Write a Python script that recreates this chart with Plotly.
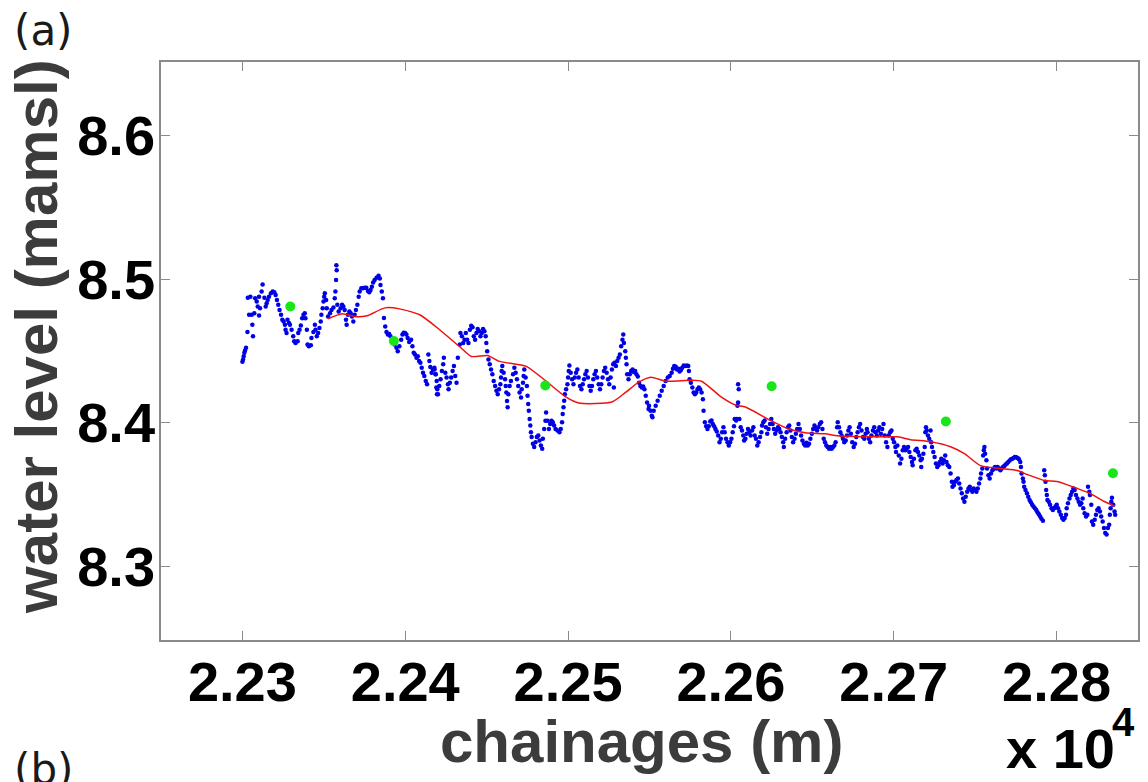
import plotly.graph_objects as go

# Observed water level along the reach (chainage in m, level in m above mean sea level)
chainage_obs_1 = [
    22300.0, 22300.4, 22300.8, 22301.2, 22301.6, 22302.2, 22303.1, 22304.1, 22303.3, 22304.9,
    22306.1, 22306.5, 22305.7, 22307.3, 22307.8, 22308.8, 22309.4, 22310.2, 22310.8, 22310.2,
    22311.8, 22312.4, 22313.5, 22314.3, 22314.9, 22315.5, 22316.3, 22317.5, 22318.6, 22319.6,
    22320.4, 22321.2, 22322.0, 22322.8, 22323.7, 22324.5, 22325.3, 22326.1, 22326.5, 22327.1,
    22327.7, 22328.6, 22329.2, 22330.2, 22331.2, 22331.8, 22332.6, 22333.9, 22334.3, 22335.1,
    22335.9, 22336.7, 22337.5, 22338.3, 22338.7, 22339.6, 22340.0, 22340.8, 22342.0, 22342.4,
    22343.6, 22344.5, 22344.9, 22345.7, 22346.5, 22347.3, 22348.1, 22348.5, 22349.3, 22349.8,
    22350.2, 22350.6, 22351.4, 22351.8, 22352.6, 22353.8, 22354.7, 22355.9, 22356.7, 22357.1,
    22357.5, 22357.9, 22357.7, 22358.3, 22359.1, 22360.3, 22361.2, 22362.0, 22362.8, 22363.6,
    22364.0, 22364.8, 22365.7, 22366.5, 22367.3, 22368.1, 22368.9, 22369.7, 22370.6, 22371.4,
    22372.0, 22373.0, 22374.0, 22375.0, 22376.1, 22377.1, 22377.9, 22378.7, 22379.5, 22380.3,
    22381.2, 22382.4, 22383.6, 22384.4, 22384.8, 22385.6, 22386.3, 22386.9, 22387.7, 22388.5,
    22389.3, 22390.1, 22390.9, 22392.2, 22393.4, 22394.6, 22395.4, 22396.4, 22397.5, 22398.3,
    22399.1, 22399.9, 22400.7, 22401.5, 22402.4, 22403.6, 22404.4, 22405.2, 22406.0, 22406.9,
    22407.7, 22408.5, 22409.3, 22410.1, 22410.9, 22411.7, 22412.6, 22413.4, 22414.2, 22414.8,
    22415.4, 22416.2, 22417.0, 22417.9, 22418.7, 22419.1, 22419.5,
]
level_obs_1 = [
    8.4425, 8.4441, 8.4464, 8.4487, 8.4503, 8.4522, 8.4632, 8.4752, 8.4871, 8.4878,
    8.4683, 8.4602, 8.4752, 8.4763, 8.4867, 8.4844, 8.4809, 8.4747, 8.4798, 8.4878,
    8.4913, 8.4963, 8.4871, 8.4809, 8.4832, 8.4855, 8.4878, 8.4901, 8.4913, 8.4908,
    8.4890, 8.4855, 8.4821, 8.4786, 8.4752, 8.4717, 8.4706, 8.4683, 8.4648, 8.4625,
    8.4717, 8.4694, 8.4683, 8.4648, 8.4602, 8.4568, 8.4556, 8.4568, 8.4625, 8.4648,
    8.4678, 8.4728, 8.4752, 8.4763, 8.4728, 8.4648, 8.4545, 8.4533, 8.4540, 8.4591,
    8.4632, 8.4683, 8.4648, 8.4602, 8.4625, 8.4660, 8.4706, 8.4752, 8.4798, 8.4844,
    8.4878, 8.4901, 8.4855, 8.4798, 8.4740, 8.4763, 8.4786, 8.4802, 8.4867, 8.4913,
    8.4993, 8.5062, 8.5097, 8.4821, 8.4775, 8.4798, 8.4821, 8.4809, 8.4786, 8.4717,
    8.4683, 8.4752, 8.4775, 8.4763, 8.4740, 8.4706, 8.4752, 8.4786, 8.4821, 8.4878,
    8.4913, 8.4936, 8.4936, 8.4940, 8.4940, 8.4917, 8.4908, 8.4924, 8.4947, 8.4977,
    8.4993, 8.5009, 8.5023, 8.5005, 8.4959, 8.4913, 8.4867, 8.4729, 8.4671, 8.4632,
    8.4614, 8.4618, 8.4602, 8.4579, 8.4545, 8.4522, 8.4499, 8.4533, 8.4579, 8.4614,
    8.4627, 8.4625, 8.4614, 8.4591, 8.4563, 8.4579, 8.4533, 8.4487, 8.4476, 8.4453,
    8.4464, 8.4430, 8.4418, 8.4384, 8.4349, 8.4326, 8.4292, 8.4269, 8.4476, 8.4430,
    8.4388, 8.4349, 8.4372, 8.4384, 8.4338, 8.4246, 8.4200,
]

chainage_obs_2 = [
    22418.0, 22418.6, 22419.3, 22419.7, 22420.1, 22420.9, 22421.7, 22422.5, 22423.3, 22423.7,
    22424.6, 22425.4, 22426.2, 22426.6, 22427.4, 22428.2, 22429.1, 22429.9, 22430.7, 22431.5,
    22432.3, 22433.5, 22433.9, 22434.8, 22435.6, 22436.4, 22437.2, 22438.0, 22438.8, 22439.7,
    22440.5, 22441.3, 22442.1, 22442.9, 22443.7, 22444.5, 22445.4, 22446.2, 22447.0, 22447.8,
    22448.6, 22449.4, 22449.8, 22450.3, 22451.1, 22451.9, 22452.7, 22453.5, 22454.3, 22455.2,
    22456.0, 22456.8, 22457.6, 22458.4, 22458.8, 22459.2, 22459.6, 22460.4, 22461.3, 22461.7,
    22462.1, 22462.5, 22462.9, 22463.3, 22464.1, 22464.9, 22466.2, 22467.0, 22467.8, 22468.6,
    22469.4, 22470.2, 22471.1, 22471.5, 22472.3, 22472.7, 22473.1, 22473.9, 22474.7, 22475.1,
    22475.5, 22475.9, 22476.4, 22476.8, 22477.2, 22477.6, 22478.4, 22479.2, 22480.0, 22480.8,
    22481.7, 22482.5, 22483.3, 22484.1, 22484.5, 22485.3, 22486.1, 22486.5, 22487.4, 22488.2,
    22489.0, 22489.8, 22490.6, 22491.4, 22492.3, 22493.5, 22494.7, 22495.5, 22496.3, 22496.7,
    22497.2, 22497.6, 22498.0, 22498.8, 22499.6, 22500.0, 22500.4, 22500.8, 22501.6, 22502.5,
    22503.3, 22504.1, 22504.9, 22505.7, 22506.5, 22507.3, 22508.2, 22509.0, 22509.8, 22510.6,
    22511.4, 22512.2, 22513.1, 22513.9, 22514.7, 22515.5, 22516.3, 22517.1, 22517.9, 22518.8,
    22519.6, 22520.4, 22521.2, 22522.0, 22522.8, 22523.7, 22524.5, 22525.3, 22526.1, 22526.9,
    22527.7, 22528.1, 22528.5, 22529.4, 22530.2, 22531.0, 22531.8, 22532.6, 22533.4, 22533.9,
    22534.3, 22535.1, 22535.5, 22535.9, 22536.3, 22537.1, 22537.9, 22538.7, 22539.6, 22540.4,
    22541.2, 22542.0, 22542.8, 22543.6, 22544.4, 22545.3, 22546.1, 22546.9, 22547.7, 22548.5,
    22549.4,
]
level_obs_2 = [
    8.4372, 8.4338, 8.4292, 8.4234, 8.4200, 8.4257, 8.4303, 8.4361, 8.4407, 8.4453,
    8.4349, 8.4315, 8.4269, 8.4234, 8.4280, 8.4315, 8.4361, 8.4395, 8.4326, 8.4280,
    8.4453, 8.4545, 8.4625, 8.4602, 8.4556, 8.4579, 8.4625, 8.4579, 8.4556, 8.4648,
    8.4676, 8.4666, 8.4602, 8.4579, 8.4625, 8.4653, 8.4637, 8.4602, 8.4625, 8.4653,
    8.4637, 8.4602, 8.4556, 8.4499, 8.4441, 8.4407, 8.4372, 8.4338, 8.4292, 8.4257,
    8.4223, 8.4200, 8.4234, 8.4269, 8.4315, 8.4361, 8.4395, 8.4349, 8.4303, 8.4257,
    8.4211, 8.4153, 8.4108, 8.4200, 8.4257, 8.4292, 8.4338, 8.4384, 8.4349, 8.4303,
    8.4257, 8.4211, 8.4177, 8.4234, 8.4280, 8.4326, 8.4372, 8.4315, 8.4257, 8.4188,
    8.4131, 8.4085, 8.4027, 8.3981, 8.3935, 8.3901, 8.3855, 8.3832, 8.3866, 8.3901,
    8.3912, 8.3878, 8.3843, 8.3820, 8.3889, 8.3958, 8.4015, 8.4073, 8.4015, 8.3958,
    8.3993, 8.4015, 8.4004, 8.3981, 8.3958, 8.3947, 8.3935, 8.3958, 8.4004, 8.4062,
    8.4108, 8.4154, 8.4200, 8.4234, 8.4269, 8.4315, 8.4361, 8.4400, 8.4349, 8.4303,
    8.4269, 8.4315, 8.4349, 8.4372, 8.4315, 8.4257, 8.4234, 8.4269, 8.4303, 8.4338,
    8.4361, 8.4315, 8.4257, 8.4223, 8.4257, 8.4303, 8.4338, 8.4361, 8.4315, 8.4269,
    8.4234, 8.4269, 8.4315, 8.4361, 8.4384, 8.4349, 8.4303, 8.4269, 8.4315, 8.4372,
    8.4407, 8.4246, 8.4418, 8.4395, 8.4430, 8.4453, 8.4476, 8.4533, 8.4579, 8.4614,
    8.4556, 8.4499, 8.4453, 8.4407, 8.4338, 8.4303, 8.4338, 8.4361, 8.4372, 8.4354,
    8.4361, 8.4338, 8.4322, 8.4280, 8.4257, 8.4246, 8.4253, 8.4234, 8.4188, 8.4142,
    8.4096,
]

chainage_obs_3 = [
    22549.7, 22550.6, 22551.4, 22551.8, 22552.6, 22553.8, 22555.0, 22556.3, 22557.5, 22558.7,
    22559.9, 22561.2, 22562.4, 22563.6, 22564.4, 22565.2, 22566.1, 22566.9, 22567.7, 22568.5,
    22569.3, 22570.1, 22571.0, 22572.2, 22573.0, 22573.8, 22574.2, 22574.6, 22575.4, 22576.3,
    22577.1, 22577.9, 22578.7, 22579.5, 22580.3, 22581.1, 22582.0, 22582.8, 22583.2, 22584.0,
    22584.8, 22585.6, 22586.4, 22587.3, 22588.1, 22588.9, 22589.7, 22590.5, 22591.3, 22592.2,
    22593.0, 22593.8, 22594.6, 22595.4, 22596.2, 22597.0, 22597.9, 22598.7, 22599.5, 22600.3,
    22601.1, 22601.9, 22602.3, 22603.2, 22603.6, 22604.0, 22604.4, 22604.8, 22604.4, 22605.2,
    22606.0, 22606.8, 22607.6, 22608.1, 22608.9, 22609.7, 22610.5, 22611.3, 22612.1, 22613.0,
    22613.8, 22614.6, 22615.4, 22616.2, 22617.0, 22617.9, 22618.7, 22619.1, 22619.9, 22620.7,
    22621.5, 22622.3, 22623.1, 22624.0, 22624.8, 22625.6, 22626.4, 22627.2, 22628.0, 22628.9,
    22629.7, 22630.5, 22631.3, 22632.1, 22632.5, 22633.3, 22634.2, 22635.0, 22635.8, 22636.6,
    22637.4, 22638.2, 22639.1, 22639.9, 22640.7, 22641.5, 22642.3, 22643.1, 22643.9, 22644.8,
    22645.6, 22646.4, 22647.2, 22648.0, 22648.8, 22649.7, 22650.5, 22651.3, 22652.1, 22652.9,
    22653.7, 22654.6, 22655.4, 22656.2, 22657.0, 22657.8, 22658.6, 22659.4, 22660.3, 22661.1,
    22661.9, 22662.7, 22663.5, 22664.3, 22665.2, 22665.6, 22666.4, 22667.2, 22668.0, 22668.8,
    22669.6, 22670.5, 22671.3, 22672.1, 22672.9, 22673.7, 22674.5, 22675.4, 22676.2, 22677.0,
    22677.8, 22678.6, 22679.4, 22680.2, 22681.1, 22681.9, 22682.7, 22683.5,
]
level_obs_3 = [
    8.4119, 8.4085, 8.4050, 8.4039, 8.4085, 8.4119, 8.4154, 8.4188, 8.4223, 8.4257,
    8.4292, 8.4315, 8.4326, 8.4349, 8.4377, 8.4395, 8.4391, 8.4372, 8.4377, 8.4358,
    8.4368, 8.4384, 8.4400, 8.4395, 8.4400, 8.4395, 8.4361, 8.4303, 8.4280, 8.4246,
    8.4211, 8.4200, 8.4211, 8.4234, 8.4246, 8.4234, 8.4211, 8.4165, 8.4085, 8.4004,
    8.3977, 8.3958, 8.3977, 8.4009, 8.4016, 8.3993, 8.3977, 8.3958, 8.3940, 8.3912,
    8.3866, 8.3889, 8.3935, 8.3970, 8.3935, 8.3889, 8.3866, 8.3843, 8.3866, 8.3889,
    8.3935, 8.3977, 8.4027, 8.4016, 8.4027, 8.4119, 8.4142, 8.4234, 8.4269, 8.4027,
    8.3970, 8.3947, 8.3912, 8.3878, 8.3889, 8.3924, 8.3958, 8.3935, 8.3912, 8.3947,
    8.3970, 8.3912, 8.3889, 8.3843, 8.3866, 8.3901, 8.3935, 8.3981, 8.4004, 8.4016,
    8.3970, 8.3924, 8.3958, 8.3993, 8.4027, 8.3993, 8.3958, 8.3924, 8.3947, 8.3970,
    8.3958, 8.3935, 8.3901, 8.3866, 8.3832, 8.3889, 8.3935, 8.3970, 8.3981, 8.3947,
    8.3901, 8.3866, 8.3889, 8.3924, 8.3958, 8.3993, 8.3958, 8.3912, 8.3878, 8.3855,
    8.3843, 8.3862, 8.3843, 8.3855, 8.3889, 8.3924, 8.3958, 8.3981, 8.3963, 8.3947,
    8.3970, 8.3993, 8.4004, 8.3958, 8.3889, 8.3866, 8.3843, 8.3832, 8.3820, 8.3832,
    8.3820, 8.3832, 8.3843, 8.3866, 8.3970, 8.4004, 8.3970, 8.3935, 8.3912, 8.3889,
    8.3866, 8.3878, 8.3912, 8.3947, 8.3970, 8.3924, 8.3866, 8.3832, 8.3855, 8.3901,
    8.3935, 8.3970, 8.3993, 8.3947, 8.3901, 8.3889, 8.3924, 8.3958,
]

chainage_obs_4 = [
    22683.9, 22684.7, 22685.5, 22686.3, 22687.2, 22688.0, 22688.8, 22689.6, 22690.4, 22691.2,
    22692.1, 22692.9, 22693.7, 22694.5, 22695.3, 22696.1, 22696.9, 22697.8, 22698.6, 22699.4,
    22700.2, 22701.0, 22701.4, 22702.2, 22703.1, 22703.9, 22704.7, 22705.5, 22706.3, 22707.1,
    22707.9, 22708.8, 22709.6, 22710.4, 22711.2, 22711.6, 22712.4, 22713.3, 22714.1, 22714.9,
    22715.7, 22716.5, 22716.9, 22717.3, 22718.2, 22719.0, 22719.4, 22719.8, 22720.2, 22721.0,
    22721.8, 22722.6, 22723.0, 22723.5, 22724.3, 22725.1, 22725.9, 22726.7, 22727.5, 22728.3,
    22729.2, 22730.0, 22730.8, 22731.6, 22732.4, 22733.2, 22734.1, 22734.9, 22735.7, 22736.1,
    22736.9, 22737.7, 22738.5, 22739.4, 22740.2, 22741.0, 22741.8, 22742.6, 22743.4, 22744.2,
    22745.1, 22745.9, 22746.7, 22747.5, 22748.3, 22749.1, 22750.0, 22750.8, 22751.6, 22752.4,
    22753.2, 22753.6, 22754.4, 22754.9, 22755.3, 22755.7, 22756.1, 22756.9, 22757.3, 22758.1,
    22758.9, 22759.7, 22760.6, 22761.4, 22762.2, 22763.0, 22763.8, 22764.6, 22765.5, 22766.3,
    22767.1, 22767.9, 22768.7, 22769.5, 22770.3, 22771.2, 22772.0, 22772.8, 22773.6, 22774.4,
    22775.2, 22776.1, 22776.9, 22777.7, 22778.1, 22778.5, 22779.3, 22779.7, 22780.1, 22780.9,
    22781.8, 22782.6, 22783.4, 22784.2, 22785.0, 22785.8, 22786.7, 22787.5, 22788.3, 22789.1,
    22789.9, 22790.7, 22791.6, 22792.4, 22792.8, 22793.2, 22793.6, 22794.0, 22794.4, 22795.2,
    22796.0, 22796.9, 22797.7, 22798.5, 22799.3, 22800.1, 22800.9, 22801.7, 22802.6, 22803.4,
    22804.2, 22805.0, 22805.8, 22806.2, 22807.0, 22807.9, 22808.7, 22809.5, 22810.3, 22811.1,
    22811.9, 22812.8, 22813.6, 22814.4, 22815.2, 22816.0, 22816.4, 22817.2, 22818.1, 22818.9,
    22819.3, 22820.1, 22820.5, 22821.3, 22821.7, 22822.5, 22823.4, 22824.2, 22825.0, 22825.8,
    22826.6, 22827.4, 22828.3, 22829.1, 22829.9, 22830.7, 22831.5, 22832.3, 22832.7, 22833.2,
    22833.6, 22834.0, 22834.8, 22835.6, 22836.0,
]
level_obs_4 = [
    8.3935, 8.3889, 8.3866, 8.3912, 8.3947, 8.3970, 8.3935, 8.3912, 8.3947, 8.3970,
    8.3924, 8.3958, 8.3993, 8.3912, 8.3866, 8.3832, 8.3912, 8.3935, 8.3947, 8.3889,
    8.3866, 8.3832, 8.3797, 8.3843, 8.3774, 8.3717, 8.3751, 8.3809, 8.3832, 8.3809,
    8.3820, 8.3832, 8.3797, 8.3763, 8.3728, 8.3705, 8.3751, 8.3809, 8.3820, 8.3797,
    8.3774, 8.3740, 8.3694, 8.3751, 8.3786, 8.3832, 8.3935, 8.3970, 8.3947, 8.3912,
    8.3889, 8.3947, 8.3866, 8.3832, 8.3797, 8.3763, 8.3717, 8.3694, 8.3705, 8.3728,
    8.3751, 8.3717, 8.3740, 8.3774, 8.3728, 8.3705, 8.3694, 8.3648, 8.3590, 8.3556,
    8.3567, 8.3590, 8.3602, 8.3613, 8.3579, 8.3544, 8.3510, 8.3475, 8.3452, 8.3487,
    8.3521, 8.3544, 8.3556, 8.3533, 8.3521, 8.3544, 8.3533, 8.3521, 8.3544, 8.3579,
    8.3613, 8.3648, 8.3682, 8.3774, 8.3809, 8.3832, 8.3786, 8.3740, 8.3682, 8.3636,
    8.3613, 8.3648, 8.3671, 8.3682, 8.3694, 8.3682, 8.3694, 8.3682, 8.3671, 8.3682,
    8.3694, 8.3701, 8.3710, 8.3717, 8.3728, 8.3738, 8.3747, 8.3751, 8.3756, 8.3763,
    8.3761, 8.3756, 8.3747, 8.3728, 8.3694, 8.3648, 8.3613, 8.3590, 8.3556, 8.3533,
    8.3510, 8.3487, 8.3464, 8.3448, 8.3430, 8.3418, 8.3407, 8.3395, 8.3379, 8.3365,
    8.3349, 8.3333, 8.3319, 8.3671, 8.3636, 8.3590, 8.3533, 8.3498, 8.3464, 8.3452,
    8.3430, 8.3407, 8.3395, 8.3407, 8.3418, 8.3430, 8.3407, 8.3384, 8.3361, 8.3338,
    8.3326, 8.3338, 8.3361, 8.3407, 8.3441, 8.3475, 8.3498, 8.3521, 8.3544, 8.3533,
    8.3498, 8.3475, 8.3452, 8.3430, 8.3441, 8.3475, 8.3407, 8.3372, 8.3349, 8.3361,
    8.3556, 8.3521, 8.3498, 8.3430, 8.3314, 8.3292, 8.3326, 8.3361, 8.3395, 8.3407,
    8.3384, 8.3349, 8.3315, 8.3269, 8.3234, 8.3223, 8.3269, 8.3292, 8.3361, 8.3407,
    8.3452, 8.3480, 8.3430, 8.3384, 8.3361,
]

# Smoothed water-surface profile
chainage_smooth = [
    22352.6, 22361.2, 22370.3, 22376.5, 22387.5, 22396.6, 22408.9, 22421.1, 22433.3, 22440.7,
    22450.5, 22457.8, 22474.3, 22486.5, 22498.8, 22506.7, 22526.9, 22535.5, 22543.4, 22550.8,
    22559.9, 22575.8, 22582.0, 22594.2, 22602.8, 22608.9, 22624.8, 22635.2, 22645.6, 22657.8,
    22665.7, 22685.9, 22702.4, 22710.4, 22722.6, 22734.9, 22743.4, 22753.2, 22765.4, 22775.8,
    22782.0, 22792.4, 22800.3, 22812.5, 22820.5, 22829.0, 22835.8,
]
level_smooth = [
    8.4724, 8.4759, 8.4738, 8.4745, 8.4800, 8.4793, 8.4752, 8.4648, 8.4531, 8.4462,
    8.4469, 8.4428, 8.4393, 8.4290, 8.4179, 8.4138, 8.4145, 8.4214, 8.4283, 8.4317,
    8.4290, 8.4297, 8.4290, 8.4179, 8.4124, 8.4110, 8.4014, 8.3959, 8.3931, 8.3924,
    8.3910, 8.3903, 8.3903, 8.3883, 8.3869, 8.3834, 8.3786, 8.3703, 8.3683, 8.3669,
    8.3641, 8.3600, 8.3593, 8.3545, 8.3510, 8.3455, 8.3420,
]

# Gauge readings
chainage_gauge = [22329.4, 22393.0, 22486.0, 22625.0, 22732.0, 22834.6]
level_gauge = [8.481, 8.457, 8.426, 8.4255, 8.401, 8.365]

# Axis ticks
x_tickvals = [22300, 22400, 22500, 22600, 22700, 22800]
x_ticktext = ["2.23", "2.24", "2.25", "2.26", "2.27", "2.28"]
y_tickvals = [8.3, 8.4, 8.5, 8.6]
y_ticktext = ["8.3", "8.4", "8.5", "8.6"]

chainage_obs = chainage_obs_1 + chainage_obs_2 + chainage_obs_3 + chainage_obs_4
level_obs = level_obs_1 + level_obs_2 + level_obs_3 + level_obs_4

SANS = "Liberation Sans, Arial, sans-serif"

fig = go.Figure()
fig.add_trace(go.Scatter(
    x=chainage_obs, y=level_obs, mode="markers",
    marker=dict(color="#0000e6", size=4.5, line=dict(width=0)),
    showlegend=False, hoverinfo="skip",
))
fig.add_trace(go.Scatter(
    x=chainage_smooth, y=level_smooth, mode="lines",
    line=dict(color="#ee1111", width=1.5, shape="spline", smoothing=0.6),
    showlegend=False, hoverinfo="skip",
))
fig.add_trace(go.Scatter(
    x=chainage_gauge, y=level_gauge, mode="markers",
    marker=dict(color="#19e619", size=10, line=dict(width=0)),
    showlegend=False, hoverinfo="skip",
))

tick_font = dict(family=SANS, size=56, color="black", weight="bold")
axis_common = dict(
    showgrid=False, zeroline=False, showline=True, mirror="allticks",
    linecolor="#8a8a8a", linewidth=1.5,
    ticks="inside", ticklen=9, tickwidth=1, tickcolor="#8a8a8a",
    tickfont=tick_font,
)

fig.update_xaxes(range=[22250, 22850], tickvals=x_tickvals, ticktext=x_ticktext,
                 ticklabelstandoff=-8, **axis_common)
fig.update_yaxes(range=[8.249, 8.651], tickvals=y_tickvals, ticktext=y_ticktext,
                 ticklabelstandoff=-7, **axis_common)

title_font = dict(family=SANS, size=60, color="#3c3c3c")
fig.update_layout(
    width=1148, height=782,
    margin=dict(l=161, r=8, t=62, b=142),
    paper_bgcolor="white", plot_bgcolor="white",
    font=dict(family=SANS),
    annotations=[
        dict(text="<b>chainages (m)</b>", xref="paper", yref="paper",
             x=0.4913, y=-0.175, xanchor="center", yanchor="middle",
             showarrow=False, font=title_font),
        dict(text="<b>water level (mamsl)</b>", xref="paper", yref="paper",
             x=-0.127, y=0.526, xanchor="center", yanchor="middle", textangle=-90,
             showarrow=False, font=title_font),
        dict(text="<b>x 10</b>", xref="paper", yref="paper",
             x=0.978, y=-0.1869, xanchor="right", yanchor="middle",
             showarrow=False, font=dict(family=SANS, size=56, color="black")),
        dict(text="<b>4</b>", xref="paper", yref="paper",
             x=0.999, y=-0.1419, xanchor="right", yanchor="middle",
             showarrow=False, font=dict(family=SANS, size=40, color="black")),
        dict(text="(a)", xref="paper", yref="paper",
             x=-0.153, y=1.1, xanchor="left", yanchor="top",
             showarrow=False, font=dict(family="DejaVu Sans", size=42, color="#1a1a1a")),
        dict(text="(b)", xref="paper", yref="paper",
             x=-0.153, y=-0.178, xanchor="left", yanchor="top",
             showarrow=False, font=dict(family="DejaVu Sans", size=42, color="#1a1a1a")),
    ],
)

fig.write_html("out.html")
